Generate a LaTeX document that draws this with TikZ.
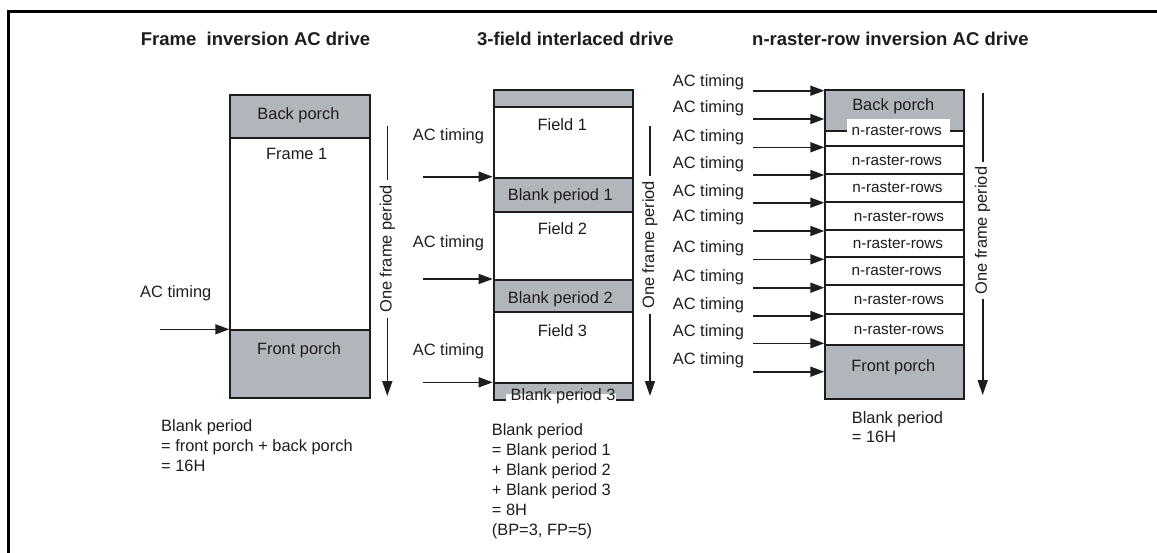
\documentclass[tikz,border=0pt]{standalone}
\usepackage{fontspec}
\setmainfont{Liberation Sans}
\usetikzlibrary{arrows.meta}
\definecolor{gr}{RGB}{177,182,189}
\definecolor{ink}{RGB}{30,28,29}
\begin{document}
\begin{tikzpicture}[x=1pt,y=-1pt,
  seg/.style={draw=ink, line width=1.8pt, inner sep=0pt, anchor=north west},
  txt/.style={font=\fontsize{16.4}{19}\selectfont, text=ink, inner sep=0pt, anchor=base},
  ltxt/.style={txt, anchor=base west},
  rowtxt/.style={font=\fontsize{15.3}{18}\selectfont, text=ink, inner sep=0pt, anchor=base},
  ttl/.style={font=\fontsize{18.5}{22}\selectfont\bfseries, text=ink, inner sep=0pt, anchor=base west},
  acarr/.style={draw=ink, line width=1.6pt, -{Triangle[length=14pt,width=10pt]}},
  perarr/.style={draw=ink, line width=1.6pt, -{Triangle[length=15pt,width=10pt]}},
  pertxt/.style={font=\fontsize{16.4}{19}\selectfont, text=ink, rotate=90, fill=white, inner xsep=5pt, inner ysep=1pt}
]
\useasboundingbox (0,0) rectangle (1157,552);
% outer frame
\coordinate (FB) at (8,553);
\coordinate (FC) at (8,11);
\coordinate (FR) at (1158,11);
\draw[line width=3pt, black] (FB) -- (FC) -- (FR);

% titles
\node[ttl] (T1) at (140.7,45) {Frame\ \ inversion AC drive};
\node[ttl] (T2) at (477,45) {3-field interlaced drive};
\node[ttl] (T3) at (752,45) {n-raster-row inversion AC drive};

% ---------------- left diagram ----------------
\node[seg, fill=gr, minimum width=140pt, minimum height=42.4pt] (LBP) at (229.3,94.3) {};
\node[seg, fill=white, minimum width=140pt, minimum height=192.6pt] (LF) at (229.3,136.7) {};
\node[seg, fill=gr, minimum width=140pt, minimum height=67.7pt] (LFP) at (229.3,329.3) {};
\node[txt] (LBPt) at (298.5,119) {Back porch};
\node[txt] (LFt) at (296.7,159.3) {Frame 1};
\node[txt] (LFPt) at (299,354.3) {Front porch};
\node[ltxt] (LAC) at (140,297.3) {AC timing};
\coordinate (LAs) at (160,329.3);
\draw[acarr] (LAs) -- (LAs -| LFP.west);
\coordinate (LPt) at (387.3,126);
\coordinate (LPb) at (387.3,396);
\draw[perarr] (LPt) -- node[pertxt, pos=0.455] (LPer) {One frame period} (LPb);
\node[ltxt] (LB1) at (161,431.7) {Blank period};
\node[ltxt] (LB2) at (161,451.7) {= front porch + back porch};
\node[ltxt] (LB3) at (161,471.3) {= 16H};

% ---------------- middle diagram ----------------
\node[seg, fill=gr, minimum width=139.6pt, minimum height=17pt] (MT) at (492.7,89) {};
\node[seg, fill=white, minimum width=139.6pt, minimum height=70.7pt] (MF1) at (492.7,106) {};
\node[seg, fill=gr, minimum width=139.6pt, minimum height=34.6pt] (MB1) at (492.7,176.7) {};
\node[seg, fill=white, minimum width=139.6pt, minimum height=67.7pt] (MF2) at (492.7,211.3) {};
\node[seg, fill=gr, minimum width=139.6pt, minimum height=32.3pt] (MB2) at (492.7,279) {};
\node[seg, fill=white, minimum width=139.6pt, minimum height=71pt] (MF3) at (492.7,311.3) {};
\node[seg, fill=gr, minimum width=139.6pt, minimum height=16.4pt] (MB3) at (492.7,382.3) {};
\node[anchor=north west, fill=white, inner sep=0pt, minimum width=110pt, minimum height=7.5pt] (MB3w) at (506,394) {};
\node[txt] (MF1t) at (562.3,130.7) {Field 1};
\node[txt] (MB1t) at (560.3,200.7) {Blank period 1};
\node[txt] (MF2t) at (562.5,234) {Field 2};
\node[txt] (MB2t) at (560.3,303.3) {Blank period 2};
\node[txt] (MF3t) at (562.5,336) {Field 3};
\node[txt] (MB3t) at (563,400) {Blank period 3};
\node[ltxt] (MAC1) at (412.7,140) {AC timing};
\node[ltxt] (MAC2) at (412.7,247.3) {AC timing};
\node[ltxt] (MAC3) at (412.7,355.7) {AC timing};
\coordinate (MAs1) at (422.7,176.7);
\coordinate (MAs2) at (422.7,279);
\coordinate (MAs3) at (422.7,382.3);
\draw[acarr] (MAs1) -- (MAs1 -| MB1.west);
\draw[acarr] (MAs2) -- (MAs2 -| MB2.west);
\draw[acarr] (MAs3) -- (MAs3 -| MB3.west);
\coordinate (MPt) at (650,126);
\coordinate (MPb) at (650,396);
\draw[perarr] (MPt) -- node[pertxt, pos=0.44] (MPer) {One frame period} (MPb);
\foreach \ln [count=\k] in {Blank period, = Blank period 1, + Blank period 2, + Blank period 3, = 8H, {(BP=3, FP=5)}}{
  \node[ltxt] (MB\k line) at (491.7,{435.7+20*(\k-1)}) {\ln};
}

% ---------------- right diagram ----------------
\node[seg, fill=gr, minimum width=139pt, minimum height=40.7pt] (RBP) at (824.3,89.3) {};
\foreach \ta/\tb [count=\k] in {130/145, 145/173.3, 173.3/201, 201/229.3, 229.3/256, 256/284.3, 284.3/313.3, 313.3/344.3}{
  \node[seg, fill=white, minimum width=139pt, minimum height={(\tb-\ta)*1pt}] (RR\k) at (824.3,\ta) {};
}
\node[seg, fill=gr, minimum width=139pt, minimum height=53.4pt] (RFP) at (824.3,344.3) {};
\node[anchor=north west, fill=white, inner sep=0pt, minimum width=103.3pt, minimum height=12.5pt] (RR1w) at (846.7,119) {};
\node[txt] (RBPt) at (893.3,110) {Back porch};
\node[txt] (RFPt) at (893.3,371.7) {Front porch};
\foreach \cx/\by [count=\k] in {896.7/135, 897/165.7, 897.5/192.3, 899/221, 898/248.3, 896.7/275, 899/304, 899/334}{
  \node[rowtxt] (RR\k t) at (\cx,\by) {n-raster-rows};
}
\foreach \ay/\ty [count=\k] in {90.7/86.7, 119/112.7, 147.3/141.7, 175/168.3, 202.7/196.7, 231/221.7, 259.3/252.7, 287.7/281.7, 316/309.3, 343.3/336.7, 371.7/364}{
  \node[ltxt] (RAC\k) at (672.7,\ty) {AC timing};
  \coordinate (RAs\k) at (753.3,\ay);
  \draw[acarr] (RAs\k) -- (RAs\k -| RBP.west);
}
\coordinate (RPt) at (982.7,93.3);
\coordinate (RPb) at (982.7,395);
\draw[perarr] (RPt) -- node[pertxt, pos=0.455] (RPer) {One frame period} (RPb);
\node[ltxt] (RB1) at (851.7,423.3) {Blank period};
\node[ltxt] (RB2) at (851.7,442.7) {= 16H};
\end{tikzpicture}
\end{document}
